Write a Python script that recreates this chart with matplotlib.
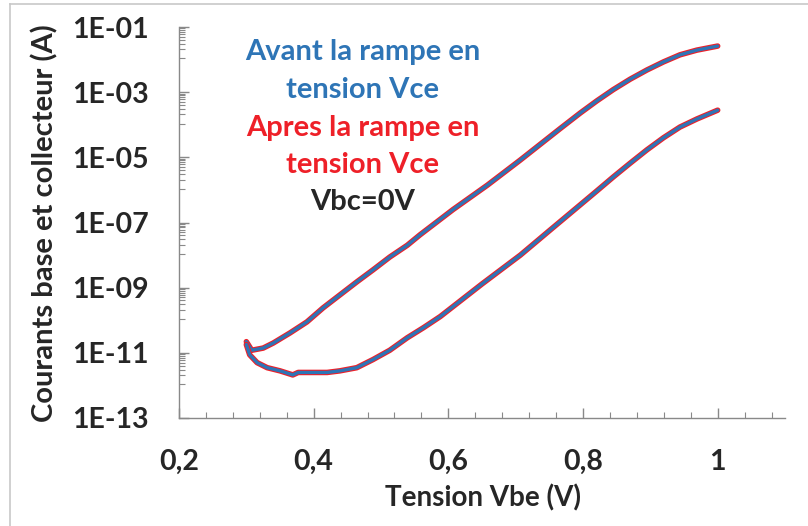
import matplotlib.pyplot as plt
from matplotlib.lines import Line2D
from matplotlib.ticker import FixedLocator, NullFormatter

# Courbes de Gummel avant / apres la rampe en tension Vce (Vbc = 0 V)
vbe_c = [0.300, 0.308, 0.325, 0.340, 0.365, 0.390, 0.414, 0.439, 0.464, 0.488,
         0.513, 0.539, 0.558, 0.607, 0.658, 0.707, 0.766, 0.796, 0.8205, 0.845,
         0.870, 0.895, 0.9196, 0.944, 0.969, 1.000]
ic = [2.2e-11, 1.2e-11, 1.4e-11, 2.0e-11, 4.1e-11, 8.9e-11, 2.4e-10, 6.0e-10,
      1.5e-9, 3.5e-9, 8.7e-9, 2.0e-8, 4.2e-8, 2.5e-7, 1.4e-6, 8.3e-6, 7.6e-5,
      2.3e-4, 5.4e-4, 1.2e-3, 2.5e-3, 4.8e-3, 8.5e-3, 1.4e-2, 1.95e-2, 2.6e-2]

vbe_b = [0.300, 0.305, 0.316, 0.331, 0.350, 0.369, 0.377, 0.399, 0.420, 0.439,
         0.464, 0.488, 0.513, 0.539, 0.563, 0.588, 0.650, 0.707, 0.750, 0.796,
         0.8205, 0.845, 0.870, 0.895, 0.9196, 0.944, 0.969, 1.000]
ib = [1.8e-11, 8.7e-12, 5.0e-12, 3.5e-12, 2.8e-12, 2.1e-12, 2.5e-12, 2.5e-12,
      2.5e-12, 2.8e-12, 3.5e-12, 6.2e-12, 1.2e-11, 2.9e-11, 5.9e-11, 1.3e-10,
      1.3e-9, 1.0e-8, 5.6e-8, 3.5e-7, 9.3e-7, 2.5e-6, 6.6e-6, 1.7e-5, 4.0e-5,
      8.5e-5, 1.5e-4, 2.8e-4]

x_ticks = [0.2, 0.4, 0.6, 0.8, 1.0]
x_labels = ['0,2', '0,4', '0,6', '0,8', '1']
y_ticks = [1e-13, 1e-11, 1e-9, 1e-7, 1e-5, 1e-3, 1e-1]
y_labels = ['1E-13', '1E-11', '1E-09', '1E-07', '1E-05', '1E-03', '1E-01']

blue = '#2E75B6'
red = '#EE2028'
grey = '#898989'
dark = '#262626'

plt.rcParams['font.family'] = ['Lato', 'DejaVu Sans']
plt.rcParams['font.weight'] = 'bold'

fig = plt.figure(figsize=(8.08, 5.26), dpi=100)
ax = fig.add_axes([179 / 808, 1 - 418 / 526, 606 / 808, 391 / 526])

# apres (rouge) dessous, avant (bleu) par-dessus
for v, i in ((vbe_c, ic), (vbe_b, ib)):
    ax.plot(v, i, color=red, lw=4.0, solid_capstyle='round', solid_joinstyle='round')
    ax.plot(v, i, color=blue, lw=2.4, solid_capstyle='round', solid_joinstyle='round')

ax.set_yscale('log')
ax.set_xlim(0.2, 1.1)
ax.set_ylim(1e-13, 1e-1)

ax.set_xticks(x_ticks)
ax.set_xticklabels(x_labels)
ax.xaxis.set_minor_locator(FixedLocator([0.2 + 0.04 * k for k in range(23)]))

ax.set_yticks(y_ticks)
ax.set_yticklabels(y_labels)
# graduations secondaires lineaires entre deux majeures (echelle log base 100)
minors = []
for lo, hi in zip(y_ticks[:-1], y_ticks[1:]):
    minors += [lo + k * (hi - lo) / 10 for k in range(1, 10)]
ax.yaxis.set_minor_locator(FixedLocator(minors))
ax.yaxis.set_minor_formatter(NullFormatter())

for s in ('top', 'right'):
    ax.spines[s].set_visible(False)
for s in ('left', 'bottom'):
    ax.spines[s].set_color(grey)
    ax.spines[s].set_linewidth(1.0)

ax.tick_params(which='major', direction='in', length=7, width=1, color=grey,
               labelsize=20.5, labelcolor=dark)
ax.tick_params(which='minor', direction='in', length=4, width=0.8, color=grey)
ax.tick_params(axis='x', which='major', pad=22)
ax.tick_params(axis='y', which='major', pad=22)

ax.set_xlabel('Tension Vbe (V)', fontsize=20, color=dark, fontweight='bold')
ax.set_ylabel('Courants base et collecteur (A)', fontsize=21, color=dark,
              fontweight='bold')
ax.xaxis.set_label_coords((483 - 179) / 606, -(484 - 418) / 391)
ax.yaxis.set_label_coords(-(179 - 58) / 606, (418 - 223) / 391)


def px(x, y):
    return x / 808, 1 - y / 526


notes = [('Avant la rampe en', 52, blue), ('tension Vce', 90, blue),
         ('Apres la rampe en', 128, red), ('tension Vce', 165, red),
         ('Vbc=0V', 202, dark)]
for txt, yy, c in notes:
    fig.text(*px(363, yy), txt, color=c, fontsize=21, fontweight='bold',
             ha='center', va='center')

# cadre du graphique
fig.add_artist(Line2D([10 / 808, 10 / 808], [0, 1 - 4 / 526], color='#c8c8c8',
                      lw=1.2, transform=fig.transFigure))
fig.add_artist(Line2D([10 / 808, 1], [1 - 4 / 526, 1 - 4 / 526], color='#c8c8c8',
                      lw=1.2, transform=fig.transFigure))

fig.savefig('out.png', dpi=100)
